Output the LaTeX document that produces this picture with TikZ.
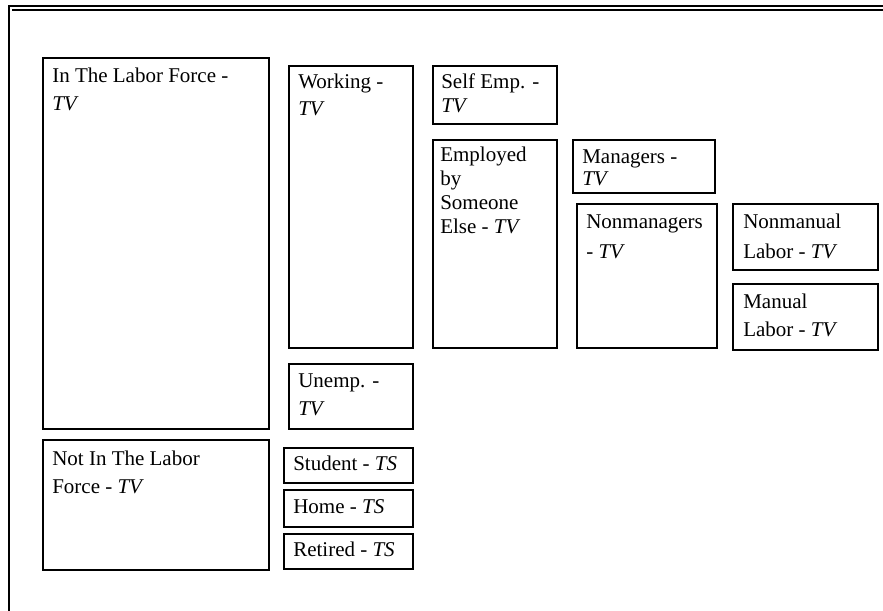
\documentclass[tikz,border=0pt]{standalone}
\usepackage{fontspec}
\setmainfont{Liberation Serif}
\usetikzlibrary{positioning}

% stacked lines, baseline on the first one
\newcommand{\boxtext}[1]{\begin{tabular}[t]{@{}l@{}}#1\end{tabular}}

\begin{document}
\begin{tikzpicture}[x=0.75pt, y=-0.75pt,
      box/.style={draw, line width=1.2pt, inner sep=0pt, anchor=north west},
      txt/.style={anchor=base west, inner sep=0pt,
                  font=\fontsize{15.75}{19.5}\selectfont},
      frame/.style={line width=1.5pt}]

    \def\u{0.75pt} % one pixel of the layout
    \useasboundingbox (0,0) rectangle (883,611);

    % Outer frame: double rule on top, single rule on the left
    \coordinate (ftl) at (9,6);
    \coordinate (ftr) at (883,6);
    \coordinate (fbl) at (9,611);
    \coordinate (itl) at (12,10);
    \coordinate (itr) at (883,10);
    \draw[frame] (fbl) -- (ftl) -- (ftr);
    \draw[frame] (itl) -- (itr);

    % Column 1: labor force status
    \node[box, minimum width=226*\u, minimum height=371*\u] (lf)  at (42,57)  {};
    \node[box, minimum width=226*\u, minimum height=130*\u] (nlf) at (42,439) {};
    \node[txt, font=\fontsize{15.75}{21.5}\selectfont] (lfT)  at ([shift={(10,25)}]lf.north west)  {\boxtext{In The Labor Force -\\\textit{TV}}};
    \node[txt, font=\fontsize{15.75}{21}\selectfont] (nlfT) at ([shift={(10,26)}]nlf.north west) {\boxtext{Not In The Labor\\Force - \textit{TV}}};

    % Column 2: working / unemployed / not in labor force reasons
    \node[box, minimum width=124*\u, minimum height=282*\u] (work)  at (288,65)  {};
    \node[box, minimum width=124*\u, minimum height=65*\u]  (unemp) at (288,363) {};
    \node[box, minimum width=129*\u, minimum height=35*\u]  (stud)  at (283,447) {};
    \node[box, minimum width=129*\u, minimum height=37*\u]  (home)  at (283,489) {};
    \node[box, minimum width=129*\u, minimum height=35*\u]  (ret)   at (283,533) {};
    \node[txt, font=\fontsize{15.75}{20.5}\selectfont] (workT)  at ([shift={(10,23)}]work.north west)  {\boxtext{Working -\\\textit{TV}}};
    \node[txt, font=\fontsize{15.75}{21.5}\selectfont] (unempT) at ([shift={(10,24)}]unemp.north west) {\boxtext{Unemp. -\\\textit{TV}}};
    \node[txt] (studT)  at ([shift={(10,23)}]stud.north west)  {Student - \textit{TS}};
    \node[txt] (homeT)  at ([shift={(10,24)}]home.north west)  {Home - \textit{TS}};
    \node[txt] (retT)   at ([shift={(10,23)}]ret.north west)   {Retired - \textit{TS}};

    % Column 3: type of employment
    \node[box, minimum width=124*\u, minimum height=58*\u]  (self) at (432,65)  {};
    \node[box, minimum width=124*\u, minimum height=208*\u] (empl) at (432,139) {};
    \node[txt, font=\fontsize{15.75}{18.5}\selectfont] (selfT) at ([shift={(9,23)}]self.north west) {\boxtext{Self Emp. -\\\textit{TV}}};
    \node[txt, font=\fontsize{15.75}{18}\selectfont] (emplT) at ([shift={(8,22)}]empl.north west)
      {\boxtext{Employed\\by\\Someone\\Else - \textit{TV}}};

    % Column 4: managers
    \node[box, minimum width=142*\u, minimum height=53*\u]  (mgr)    at (572,139) {};
    \node[box, minimum width=140*\u, minimum height=144*\u] (nonmgr) at (576,203) {};
    \node[txt, font=\fontsize{15.75}{16.5}\selectfont] (mgrT) at ([shift={(10,24)}]mgr.north west) {\boxtext{Managers -\\\textit{TV}}};
    \node[txt, font=\fontsize{15.75}{22.5}\selectfont] (nonmgrT) at ([shift={(10,25)}]nonmgr.north west) {\boxtext{Nonmanagers\\- \textit{TV}}};

    % Column 5: kind of labor
    \node[box, minimum width=145*\u, minimum height=66*\u] (nonman) at (732,203) {};
    \node[box, minimum width=145*\u, minimum height=66*\u] (manual) at (732,283) {};
    \node[txt, font=\fontsize{15.75}{22.5}\selectfont] (nonmanT) at ([shift={(11,25)}]nonman.north west) {\boxtext{Nonmanual\\Labor - \textit{TV}}};
    \node[txt, font=\fontsize{15.75}{21.5}\selectfont] (manualT) at ([shift={(11,25)}]manual.north west) {\boxtext{Manual\\Labor - \textit{TV}}};

\end{tikzpicture}
\end{document}
